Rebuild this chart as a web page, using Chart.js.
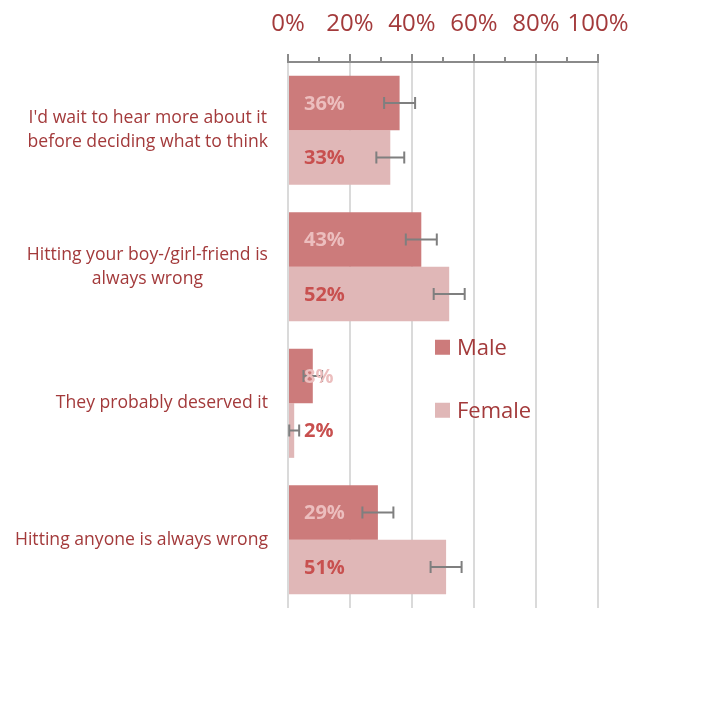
<!DOCTYPE html>
<html>
<head>
<meta charset="utf-8">
<script src="https://cdn.jsdelivr.net/npm/chart.js@4.4.0/dist/chart.umd.min.js"></script>
<style>
  html, body { margin: 0; padding: 0; background: #ffffff; }
  canvas { display: block; }
</style>
</head>
<body>
<canvas id="chart" width="712" height="724"></canvas>
<script>
// Survey responses, share of respondents (%)
const categories = [
  ["I'd wait to hear more about it", "before deciding what to think"],
  ["Hitting your boy-/girl-friend is", "always wrong"],
  ["They probably deserved it"],
  ["Hitting anyone is always wrong"]
];
const seriesNames = ["Male", "Female"];
const maleValues = [36, 43, 8, 29];
const femaleValues = [33, 52, 2, 51];
// Error margins (± percentage points)
const maleErrors = [5, 5, 3, 5];
const femaleErrors = [4.5, 5, 1.6, 5];
const xTickValues = [0, 20, 40, 60, 80, 100];

const MALE_COLOR = '#cc7b7b';
const FEMALE_COLOR = '#e0b7b7';
const TEXT_RED = '#a33a3b';
const FONT = '"Open Sans", "Noto Sans", sans-serif';

// Minor/major tick marks above the top axis line
const axisTicks = {
  id: 'axisTicks',
  afterDraw(chart) {
    const { ctx } = chart;
    const x = chart.scales.x;
    const yTop = chart.chartArea.top;
    ctx.save();
    ctx.strokeStyle = '#8a8a8a';
    ctx.lineWidth = 2;
    for (let v = 0; v <= 100; v += 10) {
      const px = Math.round(x.getPixelForValue(v));
      const len = xTickValues.includes(v) ? 8 : 5;
      ctx.beginPath();
      ctx.moveTo(px, yTop);
      ctx.lineTo(px, yTop - len);
      ctx.stroke();
    }
    ctx.restore();
  }
};

// Category labels: block right-aligned at the axis, lines centred within the block
const categoryLabels = {
  id: 'categoryLabels',
  afterDraw(chart) {
    const { ctx } = chart;
    const y = chart.scales.y;
    const right = chart.chartArea.left - 20;
    ctx.save();
    ctx.font = '17.6px ' + FONT;
    ctx.fillStyle = TEXT_RED;
    ctx.textAlign = 'center';
    ctx.textBaseline = 'middle';
    categories.forEach((lines, i) => {
      const cy = y.getPixelForValue(i);
      const w = Math.max(...lines.map(l => ctx.measureText(l).width));
      const cx = right - w / 2;
      lines.forEach((line, j) => {
        ctx.fillText(line, cx, cy + (j - (lines.length - 1) / 2) * 24);
      });
    });
    ctx.restore();
  }
};

// Error bars centred on each bar's value
const errorBars = {
  id: 'errorBars',
  afterDatasetsDraw(chart) {
    const { ctx } = chart;
    const x = chart.scales.x;
    const errs = [maleErrors, femaleErrors];
    ctx.save();
    ctx.strokeStyle = '#7f7f7f';
    ctx.lineWidth = 2;
    chart.data.datasets.forEach((ds, di) => {
      const meta = chart.getDatasetMeta(di);
      meta.data.forEach((bar, i) => {
        const v = ds.data[i];
        const e = errs[di][i];
        const x0 = x.getPixelForValue(v - e);
        const x1 = x.getPixelForValue(v + e);
        const cy = bar.y;
        ctx.beginPath();
        ctx.moveTo(x0, cy); ctx.lineTo(x1, cy);
        ctx.moveTo(x0, cy - 6); ctx.lineTo(x0, cy + 6);
        ctx.moveTo(x1, cy - 6); ctx.lineTo(x1, cy + 6);
        ctx.stroke();
      });
    });
    ctx.restore();
  }
};

// Value labels at the inside base of each bar
const valueLabels = {
  id: 'valueLabels',
  afterDraw(chart) {
    const { ctx } = chart;
    const colors = ['#ecbebe', '#c8504f'];
    ctx.save();
    ctx.font = 'bold 20px ' + FONT;
    ctx.textAlign = 'left';
    ctx.textBaseline = 'middle';
    chart.data.datasets.forEach((ds, di) => {
      const meta = chart.getDatasetMeta(di);
      ctx.fillStyle = colors[di];
      meta.data.forEach((bar, i) => {
        ctx.fillText(ds.data[i] + '%', chart.chartArea.left + 16, bar.y + 1);
      });
    });
    ctx.restore();
  }
};

// Legend inside the plot area
const insideLegend = {
  id: 'insideLegend',
  afterDraw(chart) {
    const { ctx } = chart;
    const left = chart.chartArea.left + 147;
    const y = chart.scales.y;
    const mid = y.getPixelForValue(2);
    const rows = [mid - 56, mid + 7];
    ctx.save();
    ctx.font = '22px ' + FONT;
    ctx.textBaseline = 'middle';
    ctx.textAlign = 'left';
    chart.data.datasets.forEach((ds, di) => {
      ctx.fillStyle = ds.backgroundColor;
      ctx.fillRect(left, rows[di] - 7.5, 15, 15);
      ctx.fillStyle = TEXT_RED;
      ctx.fillText(ds.label, left + 22, rows[di] + 1);
    });
    ctx.restore();
  }
};

new Chart(document.getElementById('chart'), {
  type: 'bar',
  data: {
    labels: categories,
    datasets: [
      { label: seriesNames[0], data: maleValues, backgroundColor: MALE_COLOR,
        categoryPercentage: 0.8, barPercentage: 1.0 },
      { label: seriesNames[1], data: femaleValues, backgroundColor: FEMALE_COLOR,
        categoryPercentage: 0.8, barPercentage: 1.0 }
    ]
  },
  options: {
    indexAxis: 'y',
    responsive: false,
    animation: false,
    layout: { padding: { top: 0, left: 288, right: 114, bottom: 116 } },
    plugins: { legend: { display: false }, tooltip: { enabled: false } },
    scales: {
      x: {
        position: 'top',
        min: 0, max: 100,
        afterFit(scale) { scale.height = 62; },
        ticks: {
          stepSize: 10,
          autoSkip: false,
          minRotation: 0,
          maxRotation: 0,
          padding: 23,
          color: TEXT_RED,
          font: { family: FONT, size: 24 },
          callback: v => (v % 20 === 0 ? v + '%' : '')
        },
        grid: {
          drawTicks: false,
          lineWidth: 2,
          color: c => (c.tick && c.tick.value % 20 === 0 ? '#dadada' : 'rgba(0,0,0,0)')
        },
        border: { display: true, color: '#8a8a8a', width: 2 }
      },
      y: {
        display: false
      }
    }
  },
  plugins: [axisTicks, errorBars, categoryLabels, valueLabels, insideLegend]
});
</script>
</body>
</html>
